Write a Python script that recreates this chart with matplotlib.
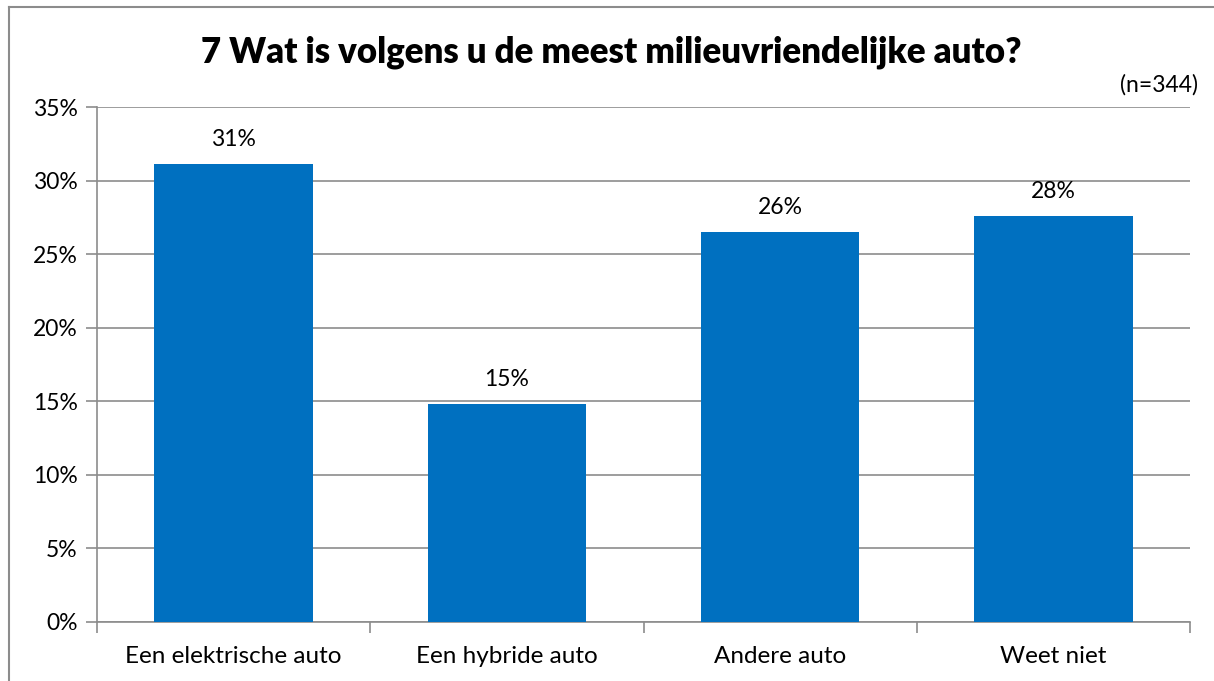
import matplotlib.pyplot as plt
from matplotlib.ticker import FuncFormatter, FixedLocator
from matplotlib.lines import Line2D

categories = ["Een elektrische auto", "Een hybride auto", "Andere auto", "Weet niet"]
percentages = [31.1, 14.8, 26.5, 27.6]
labels = ["31%", "15%", "26%", "28%"]

plt.rcParams['font.family'] = ['Lato', 'DejaVu Sans']

fig = plt.figure(figsize=(12.14, 6.81), dpi=100)
ax = fig.add_axes([97 / 1214, 1 - 622 / 681, (1190 - 97) / 1214, (622 - 107) / 681])

grey = '#8c8c8c'
fs = 16.5
x = range(len(categories))
ax.bar(x, percentages, width=0.58, color='#0070C0', zorder=3)
for i, (v, lab) in enumerate(zip(percentages, labels)):
    ax.annotate(lab, (i, v), xytext=(0, 10), textcoords='offset points',
                ha='center', va='bottom', fontsize=fs)

ax.set_xlim(-0.5, 3.5)
ax.set_ylim(0, 35)
ax.set_yticks(range(0, 36, 5))
ax.yaxis.set_major_formatter(FuncFormatter(lambda v, p: f"{v:.0f}%"))
ax.grid(axis='y', color=grey, linewidth=1.2, zorder=0)

ax.set_xticks(list(x))
ax.set_xticklabels(categories, fontsize=17.5)
ax.xaxis.set_minor_locator(FixedLocator([-0.5, 0.5, 1.5, 2.5, 3.5]))
ax.tick_params(axis='x', which='major', length=0, pad=17)
ax.tick_params(axis='x', which='minor', length=8, color=grey, width=1.2)
ax.tick_params(axis='y', length=8, color=grey, width=1.2, labelsize=fs, pad=6)

for s in ['top', 'right']:
    ax.spines[s].set_visible(False)
for s in ['left', 'bottom']:
    ax.spines[s].set_color(grey)
    ax.spines[s].set_linewidth(1.2)

fig.text(611 / 1214, 1 - 52 / 681, "7 Wat is volgens u de meest milieuvriendelijke auto?",
         ha='center', va='center', fontsize=25, fontweight='heavy')
fig.text(1198 / 1214, 1 - 85 / 681, "(n=344)", ha='right', va='center', fontsize=fs)

# frame around the chart area
fig.add_artist(Line2D([9 / 1214, 9 / 1214], [0, 1 - 7 / 681], color=grey, linewidth=1.5))
fig.add_artist(Line2D([9 / 1214, 1], [1 - 7 / 681, 1 - 7 / 681], color=grey, linewidth=1.5))

fig.savefig("out.png", dpi=100)
